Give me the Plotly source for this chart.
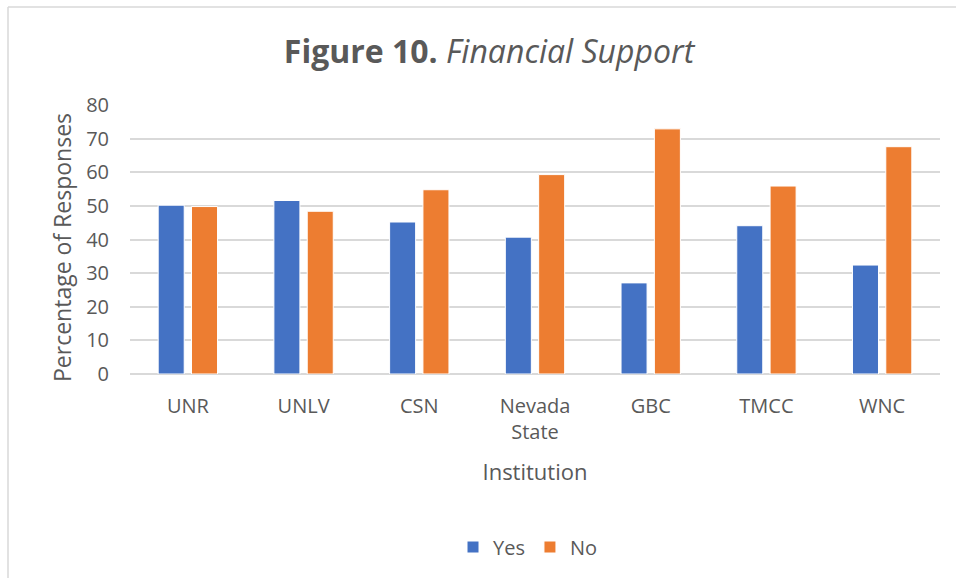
import plotly.graph_objects as go

institutions = ["UNR", "UNLV", "CSN", "Nevada<br>State", "GBC", "TMCC", "WNC"]
yes_values = [50.2, 51.6, 45.2, 40.7, 27.1, 44.1, 32.4]
no_values = [49.8, 48.4, 54.8, 59.3, 72.9, 55.9, 67.6]
y_ticks = [0, 10, 20, 30, 40, 50, 60, 70, 80]

FONT = "Open Sans"
GRAY = "#595959"

W, H = 956, 578
L, R, T, B = 130, 16, 105, 204
pw, ph = W - L - R, H - T - B

def px_x(p):
    return (p - L) / pw

def px_y(p):
    return (H - B - p) / ph

fig = go.Figure()
fig.add_trace(go.Bar(name="Yes", x=institutions, y=yes_values,
                     marker=dict(color="#4472C4", line=dict(color="#FFFFFF", width=1))))
fig.add_trace(go.Bar(name="No", x=institutions, y=no_values,
                     marker=dict(color="#ED7D31", line=dict(color="#FFFFFF", width=1))))

fig.update_layout(
    width=W, height=H,
    margin=dict(l=L, r=R, t=T, b=B),
    paper_bgcolor="white", plot_bgcolor="white",
    barmode="group", bargap=0.424, bargroupgap=0.219,
    font=dict(family=FONT, color=GRAY, size=20),
    title=dict(text="<b>Figure 10.</b> <i>Financial Support</i>",
               x=489 / W, xanchor="center", y=1 - 52 / H, yanchor="middle",
               font=dict(family=FONT, size=32, color=GRAY)),
    xaxis=dict(showgrid=False, showline=False, zeroline=False,
               tickfont=dict(size=20, color=GRAY), ticklabelstandoff=18,
               title=dict(text="Institution", font=dict(size=22, color=GRAY), standoff=20)),
    yaxis=dict(range=[0, 80], tickvals=y_ticks, showgrid=True,
               gridcolor="#D9D9D9", gridwidth=1.5, zeroline=True,
               zerolinecolor="#D9D9D9", zerolinewidth=1.5,
               tickfont=dict(size=20, color=GRAY), ticklabelstandoff=20),
    annotations=[dict(text="Percentage of Responses", textangle=-90, showarrow=False,
                      xref="paper", yref="paper", x=px_x(62), y=px_y(248),
                      xanchor="center", yanchor="middle",
                      font=dict(size=23, color=GRAY, family=FONT))],
    legend=dict(orientation="h", x=0.5 - 7 / pw, xanchor="center", y=px_y(547), yanchor="middle",
                font=dict(size=20, color=GRAY), traceorder="normal", itemwidth=30),
    shapes=[
        dict(type="line", xref="paper", yref="paper", x0=px_x(8), x1=px_x(W + 2),
             y0=px_y(7), y1=px_y(7), line=dict(color="#D9D9D9", width=1.5)),
        dict(type="line", xref="paper", yref="paper", x0=px_x(8), x1=px_x(8),
             y0=px_y(7), y1=px_y(H + 2), line=dict(color="#D9D9D9", width=1.5)),
    ],
)

fig.write_html("out.html", config={"displayModeBar": False},
               post_script="document.body.style.margin='0';document.body.style.overflow='hidden';")
